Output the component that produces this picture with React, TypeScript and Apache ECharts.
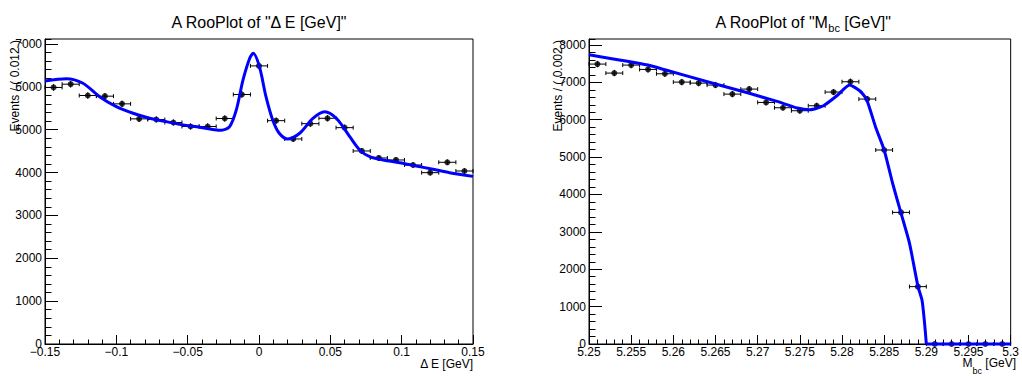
import React, { useEffect, useRef } from "react";
import * as echarts from "echarts";

const FONT = '"Liberation Sans", Arial, Helvetica, sans-serif';

// ---- Delta E plot ----
const dEBinCenters = [
  -0.144, -0.132, -0.12, -0.108, -0.096, -0.084, -0.072, -0.06, -0.048, -0.036, -0.024, -0.012,
  0, 0.012, 0.024, 0.036, 0.048, 0.06, 0.072, 0.084, 0.096, 0.108, 0.12, 0.132, 0.144,
];
const dEBinHalfWidth = 0.006;
const dECounts = [
  5985, 6061, 5797, 5781, 5602, 5252, 5237, 5167, 5074, 5074, 5260, 5820,
  6488, 5210, 4783, 5140, 5265, 5047, 4503, 4340, 4293, 4176, 3997, 4239, 4036,
];
const dECurveX = [
  -0.15, -0.135, -0.1234, -0.1117, -0.1, -0.0883, -0.0766, -0.0649, -0.0533, -0.0416, -0.0299,
  -0.0264, -0.0206, -0.0159, -0.0112, -0.0065, -0.004, 0.0003, 0.0049, 0.0096, 0.0142, 0.0201,
  0.0285, 0.0378, 0.046, 0.0542, 0.0636, 0.0706, 0.0776, 0.0869, 0.0986, 0.1102, 0.122, 0.1336, 0.15,
];
const dECurveY = [
  6136, 6190, 6083, 5770, 5537, 5382, 5266, 5187, 5110, 5056, 4993,
  4986, 5070, 5460, 6160, 6666, 6780, 6470, 5770, 5226, 4916, 4783,
  4916, 5266, 5420, 5266, 4837, 4527, 4370, 4293, 4230, 4153, 4076, 3997, 3910,
];
const dERange = { min: -0.15, max: 0.15, interval: 0.05 };
const dEYRange = { min: 0, max: 7115, interval: 1000, minor: 200 };

// ---- Mbc plot ----
const mbcBinCenters = [
  5.251, 5.253, 5.255, 5.257, 5.259, 5.261, 5.263, 5.265, 5.267, 5.269, 5.271, 5.273,
  5.275, 5.277, 5.279, 5.281, 5.283, 5.285, 5.287, 5.289, 5.291, 5.293, 5.295, 5.297, 5.299,
];
const mbcBinHalfWidth = 0.001;
const mbcCounts = [
  7489, 7248, 7462, 7346, 7230, 7007, 6980, 6927, 6686, 6820, 6463, 6321,
  6241, 6374, 6740, 7016, 6553, 5190, 3521, 1535, 0, 0, 0, 0, 0,
];
const mbcCurveX = [
  5.25, 5.257, 5.259, 5.265, 5.2689, 5.2723, 5.2747, 5.2762, 5.2778, 5.2794, 5.2809,
  5.2821, 5.2829, 5.284, 5.285, 5.286, 5.287, 5.288, 5.289, 5.2895, 5.2898, 5.29,
];
const mbcCurveY = [
  7738, 7462, 7337, 6955, 6714, 6490, 6313, 6267, 6374, 6642, 6928,
  6775, 6553, 5794, 5190, 4300, 3500, 2700, 1550, 1160, 540, 0,
];
const mbcTailX = [5.29, 5.3];
const mbcTailY = [0, 0];
const mbcRange = { min: 5.25, max: 5.3, interval: 0.005 };
const mbcYRange = { min: 0, max: 8160, interval: 1000, minor: 200 };

const fmtNum = (v: number) => {
  const r = Math.round(v * 1e6) / 1e6;
  return String(r).replace("-", "\u2212");
};

const errorBarItem = (_params: any, api: any) => {
  const xc = api.value(0);
  const y = api.value(1);
  const xl = api.value(2);
  const xh = api.value(3);
  const e = api.value(4);
  const l = api.coord([xl, y]);
  const h = api.coord([xh, y]);
  const t = api.coord([xc, y + e]);
  const b = api.coord([xc, y - e]);
  const st = { stroke: "#000", lineWidth: 1 };
  const cap = 2;
  return {
    type: "group",
    children: [
      { type: "line", shape: { x1: l[0], y1: l[1], x2: h[0], y2: h[1] }, style: st },
      { type: "line", shape: { x1: l[0], y1: l[1] - cap, x2: l[0], y2: l[1] + cap }, style: st },
      { type: "line", shape: { x1: h[0], y1: h[1] - cap, x2: h[0], y2: h[1] + cap }, style: st },
      { type: "line", shape: { x1: t[0], y1: t[1], x2: b[0], y2: b[1] }, style: st },
    ],
  };
};

const makeXAxis = (gridIndex: number, r: { min: number; max: number; interval: number }) => ({
  gridIndex,
  type: "value",
  min: r.min,
  max: r.max,
  interval: r.interval,
  axisLine: { show: true, onZero: false, lineStyle: { color: "#000", width: 1 } },
  axisTick: { show: true, inside: true, length: 9, lineStyle: { color: "#000", width: 1 } },
  minorTick: { show: true, splitNumber: 5, length: 4.5, lineStyle: { color: "#000", width: 1 } },
  splitLine: { show: false },
  minorSplitLine: { show: false },
  axisLabel: {
    color: "#000",
    fontSize: 12,
    fontFamily: FONT,
    margin: 2,
    showMinLabel: true,
    showMaxLabel: true,
    formatter: (v: number) => fmtNum(v),
  },
});

const makeYAxes = (gridIndex: number, r: { min: number; max: number; interval: number; minor: number }) => [
  {
    gridIndex,
    type: "value",
    position: "left",
    min: r.min,
    max: r.max,
    interval: r.interval,
    axisLine: { show: true, onZero: false, lineStyle: { color: "#000", width: 1 } },
    axisTick: { show: true, inside: true, length: 13, lineStyle: { color: "#000", width: 1 } },
    splitLine: { show: false },
    axisLabel: {
      color: "#000",
      fontSize: 12,
      fontFamily: FONT,
      margin: 3,
      showMinLabel: true,
      showMaxLabel: false,
      formatter: (v: number) => String(Math.round(v)),
    },
  },
  {
    gridIndex,
    type: "value",
    position: "left",
    min: r.min,
    max: r.max,
    interval: r.minor,
    axisLine: { show: false, onZero: false },
    axisTick: { show: true, inside: true, length: 6.5, lineStyle: { color: "#000", width: 1 } },
    splitLine: { show: false },
    axisLabel: { show: false },
  },
];

const binData = (centers: number[], counts: number[], hw: number) =>
  centers.map((c, i) => [c, counts[i], c - hw, c + hw, Math.sqrt(counts[i])]);

const pairs = (xs: number[], ys: number[]) => xs.map((x, i) => [x, ys[i]]);

export default function App() {
  const ref = useRef<HTMLDivElement>(null);
  useEffect(() => {
    if (!ref.current) return;
    const chart = echarts.init(ref.current, undefined, { renderer: "svg" });
    const option: any = {
      animation: false,
      backgroundColor: "#fff",
      textStyle: { fontFamily: FONT },
      grid: [
        { left: 45, right: 549, top: 39, bottom: 32, show: true, borderColor: "#000", borderWidth: 1, backgroundColor: "transparent" },
        { left: 589, right: 6, top: 39, bottom: 32, show: true, borderColor: "#000", borderWidth: 1, backgroundColor: "transparent" },
      ],
      xAxis: [makeXAxis(0, dERange), makeXAxis(1, mbcRange)],
      yAxis: [...makeYAxes(0, dEYRange), ...makeYAxes(1, mbcYRange)],
      series: [
        {
          type: "custom",
          xAxisIndex: 0,
          yAxisIndex: 0,
          renderItem: errorBarItem,
          encode: { x: 0, y: 1 },
          data: binData(dEBinCenters, dECounts, dEBinHalfWidth),
          z: 2,
        },
        {
          type: "scatter",
          xAxisIndex: 0,
          yAxisIndex: 0,
          symbol: "circle",
          symbolSize: 6,
          itemStyle: { color: "#000" },
          data: pairs(dEBinCenters, dECounts),
          clip: false,
          z: 3,
        },
        {
          type: "line",
          xAxisIndex: 0,
          yAxisIndex: 0,
          showSymbol: false,
          smooth: 0.3,
          lineStyle: { color: "#0000ff", width: 3 },
          itemStyle: { color: "#0000ff" },
          data: pairs(dECurveX, dECurveY),
          z: 5,
        },
        {
          type: "custom",
          xAxisIndex: 1,
          yAxisIndex: 2,
          renderItem: errorBarItem,
          encode: { x: 0, y: 1 },
          data: binData(mbcBinCenters, mbcCounts, mbcBinHalfWidth),
          z: 2,
        },
        {
          type: "scatter",
          xAxisIndex: 1,
          yAxisIndex: 2,
          symbol: "circle",
          symbolSize: 6,
          itemStyle: { color: "#000" },
          data: pairs(mbcBinCenters, mbcCounts),
          clip: false,
          z: 3,
        },
        {
          type: "line",
          xAxisIndex: 1,
          yAxisIndex: 2,
          showSymbol: false,
          smooth: 0.2,
          lineStyle: { color: "#0000ff", width: 3 },
          itemStyle: { color: "#0000ff" },
          data: pairs(mbcCurveX, mbcCurveY),
          z: 5,
        },
        {
          type: "line",
          xAxisIndex: 1,
          yAxisIndex: 2,
          showSymbol: false,
          lineStyle: { color: "#0000ff", width: 3 },
          itemStyle: { color: "#0000ff" },
          data: pairs(mbcTailX, mbcTailY),
          clip: false,
          z: 5,
        },
      ],
      graphic: [
        {
          type: "text",
          x: 259,
          y: 22,
          style: {
            text: 'A RooPlot of "\u0394 E [GeV]"',
            fontSize: 16,
            fontFamily: FONT,
            fill: "#000",
            align: "center",
            verticalAlign: "middle",
          },
        },
        {
          type: "text",
          x: 803,
          y: 22,
          style: {
            text: '{a|A RooPlot of "M}{s|bc}{a| [GeV]"}',
            fontSize: 16,
            fontFamily: FONT,
            fill: "#000",
            align: "center",
            verticalAlign: "middle",
            rich: {
              a: { fontSize: 16, fontFamily: FONT, fill: "#000", lineHeight: 20 },
              s: { fontSize: 11, fontFamily: FONT, fill: "#000", lineHeight: 11, padding: [12, 0, 0, 0] },
            },
          },
        },
        {
          type: "text",
          x: 473,
          y: 364,
          style: {
            text: "\u0394 E [GeV]",
            fontSize: 12,
            fontFamily: FONT,
            fill: "#000",
            align: "right",
            verticalAlign: "middle",
          },
        },
        {
          type: "text",
          x: 1016,
          y: 363,
          style: {
            text: "{a|M}{s|bc}{a| [GeV]}",
            fontSize: 12,
            fontFamily: FONT,
            fill: "#000",
            align: "right",
            verticalAlign: "middle",
            rich: {
              a: { fontSize: 12, fontFamily: FONT, fill: "#000", lineHeight: 14 },
              s: { fontSize: 9, fontFamily: FONT, fill: "#000", lineHeight: 9, padding: [15, 0, 0, 0] },
            },
          },
        },
        {
          type: "text",
          x: 14.5,
          y: 40,
          rotation: Math.PI / 2,
          style: {
            text: "Events / ( 0.012 )",
            fontSize: 12,
            fontFamily: FONT,
            fill: "#000",
            align: "right",
            verticalAlign: "middle",
          },
        },
        {
          type: "text",
          x: 558,
          y: 40,
          rotation: Math.PI / 2,
          style: {
            text: "Events / ( 0.002 )",
            fontSize: 12,
            fontFamily: FONT,
            fill: "#000",
            align: "right",
            verticalAlign: "middle",
          },
        },
      ],
    };
    chart.setOption(option);
    return () => chart.dispose();
  }, []);
  return (
    <div
      ref={ref}
      style={{ position: "absolute", left: 0, top: 0, width: 1022, height: 376 }}
    />
  );
}
